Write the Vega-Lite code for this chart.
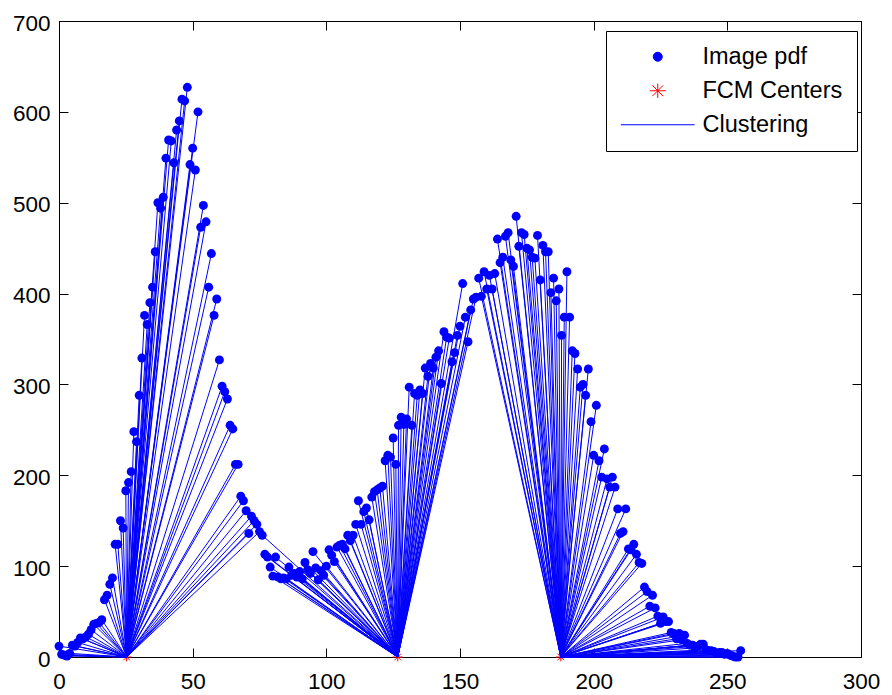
{
  "$schema": "https://vega.github.io/schema/vega-lite/v6.json",
  "autosize": {"type": "none"},
  "width": 802,
  "height": 636,
  "padding": {"left": 59, "top": 21, "right": 31, "bottom": 38},
  "background": "white",
  "datasets": {
    "pdf": [
      {"g":0,"p":12,"k":1},{"g":1,"p":3,"k":1},{"g":2,"p":2,"k":1},{"g":3,"p":1,"k":1},{"g":4,"p":4,"k":1},{"g":5,"p":13,"k":1},{"g":6,"p":12,"k":1},{"g":7,"p":16,"k":1},{"g":8,"p":21,"k":1},{"g":9,"p":20,"k":1},
      {"g":10,"p":22,"k":1},{"g":11,"p":25,"k":1},{"g":12,"p":30,"k":1},{"g":13,"p":36,"k":1},{"g":14,"p":37,"k":1},{"g":15,"p":38,"k":1},{"g":16,"p":41,"k":1},{"g":17,"p":63,"k":1},{"g":18,"p":68,"k":1},{"g":19,"p":80,"k":1},
      {"g":20,"p":87,"k":1},{"g":21,"p":124,"k":1},{"g":22,"p":124,"k":1},{"g":23,"p":150,"k":1},{"g":24,"p":142,"k":1},{"g":25,"p":183,"k":1},{"g":26,"p":192,"k":1},{"g":27,"p":204,"k":1},{"g":28,"p":248,"k":1},{"g":29,"p":237,"k":1},
      {"g":30,"p":288,"k":1},{"g":31,"p":329,"k":1},{"g":32,"p":376,"k":1},{"g":33,"p":366,"k":1},{"g":34,"p":390,"k":1},{"g":35,"p":407,"k":1},{"g":36,"p":446,"k":1},{"g":37,"p":500,"k":1},{"g":38,"p":494,"k":1},{"g":39,"p":506,"k":1},
      {"g":40,"p":549,"k":1},{"g":41,"p":569,"k":1},{"g":42,"p":568,"k":1},{"g":43,"p":544,"k":1},{"g":44,"p":580,"k":1},{"g":45,"p":590,"k":1},{"g":46,"p":614,"k":1},{"g":47,"p":612,"k":1},{"g":48,"p":627,"k":1},{"g":49,"p":542,"k":1},
      {"g":50,"p":560,"k":1},{"g":51,"p":536,"k":1},{"g":52,"p":600,"k":1},{"g":53,"p":473,"k":1},{"g":54,"p":497,"k":1},{"g":55,"p":479,"k":1},{"g":56,"p":407,"k":1},{"g":57,"p":444,"k":1},{"g":58,"p":376,"k":1},{"g":59,"p":394,"k":1},
      {"g":60,"p":327,"k":1},{"g":61,"p":298,"k":1},{"g":62,"p":292,"k":1},{"g":63,"p":284,"k":1},{"g":64,"p":255,"k":1},{"g":65,"p":251,"k":1},{"g":66,"p":212,"k":1},{"g":67,"p":212,"k":1},{"g":68,"p":177,"k":1},{"g":69,"p":172,"k":1},
      {"g":70,"p":161,"k":1},{"g":71,"p":136,"k":1},{"g":72,"p":155,"k":1},{"g":73,"p":150,"k":1},{"g":74,"p":146,"k":1},{"g":75,"p":138,"k":1},{"g":76,"p":134,"k":2},{"g":77,"p":113,"k":2},{"g":78,"p":110,"k":2},{"g":79,"p":99,"k":2},
      {"g":80,"p":89,"k":2},{"g":81,"p":110,"k":2},{"g":82,"p":88,"k":2},{"g":83,"p":86,"k":2},{"g":84,"p":87,"k":2},{"g":85,"p":86,"k":2},{"g":86,"p":99,"k":2},{"g":87,"p":90,"k":2},{"g":88,"p":92,"k":2},{"g":89,"p":88,"k":2},
      {"g":90,"p":94,"k":2},{"g":91,"p":86,"k":2},{"g":92,"p":104,"k":2},{"g":93,"p":96,"k":2},{"g":94,"p":92,"k":2},{"g":95,"p":116,"k":2},{"g":96,"p":98,"k":2},{"g":97,"p":85,"k":2},{"g":98,"p":95,"k":2},{"g":99,"p":90,"k":2},
      {"g":100,"p":100,"k":2},{"g":101,"p":118,"k":2},{"g":102,"p":112,"k":2},{"g":103,"p":105,"k":2},{"g":104,"p":121,"k":2},{"g":105,"p":123,"k":2},{"g":106,"p":124,"k":2},{"g":107,"p":119,"k":2},{"g":108,"p":134,"k":2},{"g":109,"p":128,"k":2},
      {"g":110,"p":134,"k":2},{"g":111,"p":146,"k":2},{"g":112,"p":172,"k":2},{"g":113,"p":146,"k":2},{"g":114,"p":160,"k":2},{"g":115,"p":164,"k":2},{"g":116,"p":151,"k":2},{"g":117,"p":176,"k":2},{"g":118,"p":182,"k":2},{"g":119,"p":184,"k":2},
      {"g":120,"p":186,"k":2},{"g":121,"p":188,"k":2},{"g":122,"p":216,"k":2},{"g":123,"p":222,"k":2},{"g":124,"p":220,"k":2},{"g":125,"p":241,"k":2},{"g":126,"p":212,"k":2},{"g":127,"p":255,"k":2},{"g":128,"p":264,"k":2},{"g":129,"p":256,"k":2},
      {"g":130,"p":262,"k":2},{"g":131,"p":297,"k":2},{"g":132,"p":255,"k":2},{"g":133,"p":290,"k":2},{"g":134,"p":288,"k":2},{"g":135,"p":294,"k":2},{"g":136,"p":290,"k":2},{"g":137,"p":318,"k":2},{"g":138,"p":309,"k":2},{"g":139,"p":323,"k":2},
      {"g":140,"p":318,"k":2},{"g":141,"p":330,"k":2},{"g":142,"p":337,"k":2},{"g":143,"p":301,"k":2},{"g":144,"p":358,"k":2},{"g":145,"p":352,"k":2},{"g":146,"p":351,"k":2},{"g":147,"p":325,"k":2},{"g":148,"p":335,"k":2},{"g":149,"p":354,"k":2},
      {"g":150,"p":364,"k":2},{"g":151,"p":411,"k":2},{"g":152,"p":374,"k":2},{"g":153,"p":347,"k":2},{"g":154,"p":382,"k":2},{"g":155,"p":394,"k":2},{"g":156,"p":396,"k":2},{"g":157,"p":417,"k":3},{"g":158,"p":397,"k":3},{"g":159,"p":424,"k":3},
      {"g":160,"p":405,"k":3},{"g":161,"p":420,"k":3},{"g":162,"p":405,"k":3},{"g":163,"p":422,"k":3},{"g":164,"p":460,"k":3},{"g":165,"p":434,"k":3},{"g":166,"p":440,"k":3},{"g":167,"p":463,"k":3},{"g":168,"p":467,"k":3},{"g":169,"p":437,"k":3},
      {"g":170,"p":430,"k":3},{"g":171,"p":485,"k":3},{"g":172,"p":452,"k":3},{"g":173,"p":467,"k":3},{"g":174,"p":465,"k":3},{"g":175,"p":450,"k":3},{"g":176,"p":448,"k":3},{"g":177,"p":440,"k":3},{"g":178,"p":439,"k":3},{"g":179,"p":464,"k":3},
      {"g":180,"p":415,"k":3},{"g":181,"p":453,"k":3},{"g":182,"p":446,"k":3},{"g":183,"p":446,"k":3},{"g":184,"p":401,"k":3},{"g":185,"p":417,"k":3},{"g":186,"p":392,"k":3},{"g":187,"p":405,"k":3},{"g":188,"p":354,"k":3},{"g":189,"p":374,"k":3},
      {"g":190,"p":424,"k":3},{"g":191,"p":374,"k":3},{"g":192,"p":337,"k":3},{"g":193,"p":334,"k":3},{"g":194,"p":317,"k":3},{"g":195,"p":297,"k":3},{"g":196,"p":300,"k":3},{"g":197,"p":288,"k":3},{"g":198,"p":317,"k":3},{"g":199,"p":259,"k":3},
      {"g":200,"p":222,"k":3},{"g":201,"p":277,"k":3},{"g":202,"p":216,"k":3},{"g":203,"p":198,"k":3},{"g":204,"p":229,"k":3},{"g":205,"p":196,"k":3},{"g":206,"p":187,"k":3},{"g":207,"p":198,"k":3},{"g":208,"p":187,"k":3},{"g":209,"p":163,"k":3},
      {"g":210,"p":136,"k":3},{"g":211,"p":138,"k":3},{"g":212,"p":163,"k":3},{"g":213,"p":119,"k":3},{"g":214,"p":118,"k":3},{"g":215,"p":124,"k":3},{"g":216,"p":113,"k":3},{"g":217,"p":104,"k":3},{"g":218,"p":103,"k":3},{"g":219,"p":77,"k":3},
      {"g":220,"p":72,"k":3},{"g":221,"p":56,"k":3},{"g":222,"p":68,"k":3},{"g":223,"p":54,"k":3},{"g":224,"p":45,"k":3},{"g":225,"p":37,"k":3},{"g":226,"p":44,"k":3},{"g":227,"p":39,"k":3},{"g":228,"p":39,"k":3},{"g":229,"p":27,"k":3},
      {"g":230,"p":26,"k":3},{"g":231,"p":20,"k":3},{"g":232,"p":26,"k":3},{"g":233,"p":19,"k":3},{"g":234,"p":24,"k":3},{"g":235,"p":15,"k":3},{"g":236,"p":13,"k":3},{"g":237,"p":13,"k":3},{"g":238,"p":10,"k":3},{"g":239,"p":12,"k":3},
      {"g":240,"p":14,"k":3},{"g":241,"p":14,"k":3},{"g":242,"p":8,"k":3},{"g":243,"p":7,"k":3},{"g":244,"p":7,"k":3},{"g":245,"p":6,"k":3},{"g":246,"p":4,"k":3},{"g":247,"p":5,"k":3},{"g":248,"p":5,"k":3},{"g":249,"p":3,"k":3},
      {"g":250,"p":4,"k":3},{"g":251,"p":2,"k":3},{"g":252,"p":1,"k":3},{"g":253,"p":0,"k":3},{"g":254,"p":0,"k":3},{"g":255,"p":7,"k":3}
    ],
    "centers": [
      {"k":1,"c":25.3},{"k":2,"c":126.7},{"k":3,"c":187.7}
    ]
  },
  "layer": [
    {
      "data": {"name": "centers"},
      "mark": {"type": "point", "shape": "M-1.8,0L1.8,0M0,-1.6L0,1.6M-1.2,-1.2L1.2,1.2M-1.2,1.2L1.2,-1.2", "filled": false, "size": 30, "strokeWidth": 1, "opacity": 1},
      "encoding": {
        "x": {"field": "c", "type": "quantitative", "axis": null},
        "y": {"datum": 0, "type": "quantitative", "axis": null},
        "color": {
          "datum": "FCM Centers",
          "legend": {
            "title": null,
            "orient": "none",
            "legendX": 547,
            "legendY": 10,
            "fillColor": "white",
            "strokeColor": "black",
            "padding": 14,
            "symbolSize": 81,
            "symbolOffset": 26,
            "labelFont": "Liberation Sans",
            "labelFontSize": 23.5,
            "labelColor": "black",
            "labelOffset": 33,
            "rowPadding": 9,
            "encoding": {
              "symbols": {
                "shape": {"value": {"expr": "datum.value === 'Image pdf' ? 'circle' : datum.value === 'FCM Centers' ? 'M-1.8,0L1.8,0M0,-1.6L0,1.6M-1.2,-1.2L1.2,1.2M-1.2,1.2L1.2,-1.2' : 'M-8.2,0L8.2,0'"}},
                "fill": {"value": {"expr": "datum.value === 'Image pdf' ? '#0000ff' : 'transparent'"}},
                "stroke": {"value": {"expr": "datum.value === 'FCM Centers' ? '#ff0000' : '#0000ff'"}},
                "strokeWidth": {"value": 1},
                "opacity": {"value": 1}
              }
            }
          }
        }
      }
    },
    {
      "data": {"name": "pdf"},
      "transform": [
        {"lookup": "k", "from": {"data": {"name": "centers"}, "key": "k", "fields": ["c"]}}
      ],
      "mark": {"type": "rule", "strokeWidth": 1},
      "encoding": {
        "x": {"field": "g", "type": "quantitative", "axis": {"orient": "top", "labels": false, "values": [0,50,100,150,200,250,300]}},
        "x2": {"field": "c"},
        "y": {"field": "p", "type": "quantitative", "axis": {"orient": "right", "labels": false, "values": [0,100,200,300,400,500,600,700]}},
        "y2": {"datum": 0},
        "color": {"datum": "Clustering"}
      }
    },
    {
      "data": {"name": "pdf"},
      "mark": {"type": "point", "filled": true, "size": 80, "opacity": 1, "shape": "circle"},
      "encoding": {
        "x": {"field": "g", "type": "quantitative",
              "scale": {"domain": [0, 300], "nice": false, "zero": false},
              "axis": {"orient": "bottom", "values": [0,50,100,150,200,250,300], "labelPadding": 22}},
        "y": {"field": "p", "type": "quantitative",
              "scale": {"domain": [0, 700], "nice": false, "zero": false},
              "axis": {"orient": "left", "values": [0,100,200,300,400,500,600,700], "labelPadding": 18, "labelOffset": 2}},
        "color": {
          "datum": "Image pdf",
          "scale": {"domain": ["Image pdf", "FCM Centers", "Clustering"], "range": ["#0000ff", "#ff0000", "#0000ff"]}
        }
      }
    }
  ],
  "resolve": {"axis": {"x": "independent", "y": "independent"}},
  "config": {
    "view": {"stroke": "black", "strokeWidth": 1},
    "axis": {
      "title": null,
      "grid": false,
      "domainColor": "black",
      "domainWidth": 1,
      "tickColor": "black",
      "tickWidth": 1,
      "tickSize": -9,
      "labelFont": "Liberation Sans",
      "labelFontSize": 22.5,
      "labelColor": "black",
      "labelFlush": false,
      "labelOverlap": false
    }
  }
}
